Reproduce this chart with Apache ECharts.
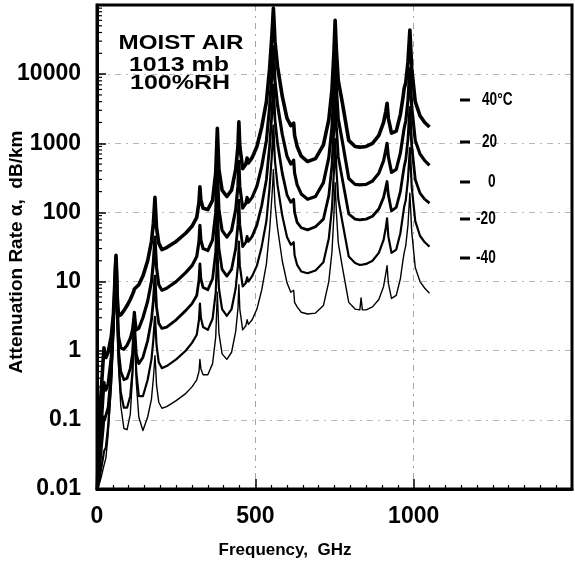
<!DOCTYPE html>
<html><head><meta charset="utf-8">
<script src="https://cdn.jsdelivr.net/npm/echarts@6/dist/echarts.min.js"></script>
<style>html,body{margin:0;padding:0;background:#fff}#c{width:575px;height:565px}</style>
</head><body><div id="c"></div>
<script>
// Frequency grid (GHz)
const freq = [1,5,10,15,20,22,24,28,35,45,52,56,58,60,62,64,68,75,85,95,105,112,116,118,120,124,132,145,160,172,178,181,183,185,188,195,205,220,250,280,300,315,322,325,328,335,350,365,375,380,385,395,410,425,438,445,448,451,460,470,474,478,490,505,520,535,545,552,555,557,559,562,570,585,600,612,618,621,624,632,645,665,690,715,732,742,748,752,756,762,775,795,815,830,834,838,850,870,890,905,912,916,920,930,945,958,966,970,975,982,988,994,1005,1020,1035,1050];

// Attenuation (dB/km) for each temperature
const t40 = [0.01,0.04,0.15,0.35,0.8,1.1,0.95,0.8,0.95,1.6,3.5,9,16,24,14,6,3.2,3.3,3.8,4.5,5.5,6.5,7.2,7.8,7.4,7.5,9,12,20,38,70,115,165,110,60,36,29,31,38,50,63,85,140,235,150,115,110,150,380,1650,420,210,170,210,420,900,2050,900,430,500,610,520,620,900,1700,4000,12000,35000,60000,90000,60000,30000,13000,4800,2300,1800,1850,1950,1300,900,650,545,600,950,2200,6000,20000,60000,22000,8000,3800,1100,900,880,890,885,900,1000,1300,2000,2900,3800,2300,1400,1500,2600,4500,6200,7500,15000,43500,12000,4000,2500,2000,1720];
const t20 = [0.01,0.02,0.05,0.11,0.25,0.35,0.3,0.27,0.33,0.8,2.8,8,15,22,13,4.5,1.6,1.1,1.05,1.2,1.5,2.0,2.8,3.6,2.8,2.0,2.1,3.0,5.2,10,19,31,44,29,16,9,7.5,8,10,13.5,17,23,38,65,40,30,28,40,100,440,110,55,44,55,110,240,550,240,115,135,165,140,165,240,460,1100,3300,9500,16000,25000,16000,8000,3600,1350,650,500,520,570,370,250,185,155,170,270,620,1700,5700,17000,6200,2250,1050,310,255,250,252,252,255,285,370,560,800,1000,640,380,420,720,1250,1650,2100,4200,12000,3300,1100,700,560,480];
const t0 = [0.01,0.015,0.025,0.045,0.08,0.11,0.1,0.1,0.15,0.5,2.3,7.5,14,21,12,3.8,1.0,0.5,0.38,0.4,0.55,0.9,1.8,3.0,1.8,0.9,0.65,0.8,1.4,2.8,5.3,8.5,12,8,4.3,2.5,2.1,2.2,2.8,3.8,4.8,6.3,10.5,18,11,8.2,7.6,11,27,120,30,15,12,15,30,66,150,66,32,37,45,38,45,66,125,300,900,2600,4400,7000,4400,2200,1000,370,180,140,145,155,100,72,60,56,62,80,175,480,1600,4800,1750,640,300,95,80,78,79,79,80,88,112,165,230,280,180,105,118,200,350,460,580,1150,3300,900,300,190,155,136];
const tm20 = [0.01,0.012,0.016,0.022,0.03,0.035,0.035,0.04,0.08,0.35,2.0,7,13,20,11,3.3,0.75,0.25,0.15,0.15,0.22,0.5,1.4,2.8,1.4,0.5,0.22,0.22,0.38,0.75,1.45,2.3,3.1,2.2,1.2,0.68,0.56,0.6,0.75,1.0,1.3,1.7,2.8,4.8,3.0,2.2,2.0,2.9,7,31,8,4,3.2,4,8,17,38,17,8.5,9.5,11.5,10,12,17,32,75,230,650,1100,1800,1100,550,250,90,44,34,35,37,24,17.4,14,13.2,14.5,19,42,115,380,1150,420,155,72,23,18.5,17.4,17.6,17.6,18,20,26,40,60,82,45,26,29,50,90,121,150,300,850,230,75,46,37,32];
const tm40 = [0.01,0.011,0.013,0.016,0.02,0.022,0.022,0.028,0.06,0.3,1.8,6.5,12.5,19,10,3.0,0.6,0.16,0.075,0.072,0.12,0.4,1.2,2.7,1.2,0.35,0.11,0.07,0.11,0.2,0.4,0.62,0.85,0.6,0.32,0.18,0.147,0.155,0.19,0.24,0.3,0.38,0.5,0.75,0.55,0.45,0.45,0.65,1.6,7,1.8,0.9,0.75,0.95,1.9,4,9,4,2.0,2.3,2.8,2.4,2.8,4,7.5,18,55,160,260,420,260,130,60,20,9.6,7,7,7.5,5,4.3,3.6,3.4,3.5,4.5,10,27,90,270,100,36,16,5,4,3.9,5.8,3.9,3.9,4.3,5.5,8.5,13,17,9.5,5.7,6.3,11,20,26,33,66,190,52,16,10,8,6.8];

const yTickLabels = ['0.01','0.1','1','10','100','1000','10000'];
const xTickLabels = [0,500,1000];
const tempLabels = ['40°C','20','0','-20','-40'];

const series = [t40,t20,t0,tm20,tm40];
const widths = [3.6,3.2,2.8,2.2,1.4];

function pairs(v){ return freq.map((f,i)=>[f,v[i]]); }

// decorative log minor ticks on the y axis
const minorY = [];
for (let e=-2;e<5;e++) for (let m=2;m<10;m++) minorY.push([0, m*Math.pow(10,e)]);

const chart = echarts.init(document.getElementById('c'), null, {renderer:'canvas'});
const FONT = 'Liberation Sans, Arial, sans-serif';
const legendY = [100,142,182,219,258];
const legendX = [482,482,488,476,476];
function txt(text, x, y, size, sx, extra){
  return Object.assign({type:'text', x:x, y:y, scaleX:sx, style:{text:text, fill:'#000', font:'bold '+size+'px '+FONT, textAlign:'center', textVerticalAlign:'middle'}}, extra||{});
}
const option = {
  animation:false,
  grid:{left:97, top:5, width:481.5, height:484, show:true, borderColor:'#000', borderWidth:3, backgroundColor:'transparent'},
  xAxis:{type:'value', min:0, max:1500, interval:500,
    axisLine:{lineStyle:{color:'#000',width:3}},
    axisTick:{inside:true,length:10,lineStyle:{color:'#000',width:1.5}},
    minorTick:{show:true,splitNumber:10,length:4,lineStyle:{color:'#000',width:1.2}},
    axisLabel:{formatter:v=>xTickLabels.includes(v)?String(v):'', fontSize:23, fontWeight:'bold', color:'#000', margin:16, fontFamily:FONT},
    splitLine:{show:true, lineStyle:{type:[6,5,2,5], color:'#000', opacity:0.35, width:1}}},
  yAxis:{type:'log', logBase:10, min:0.01, max:100000,
    axisLine:{lineStyle:{color:'#000',width:3}},
    axisTick:{inside:true,length:9,lineStyle:{color:'#000',width:1.5}},
    axisLabel:{formatter:v=>{const i=Math.round(Math.log10(v))+2; return yTickLabels[i]||'';}, fontSize:23, fontWeight:'bold', color:'#000', margin:16, fontFamily:FONT},
    splitLine:{show:true, lineStyle:{type:[6,5,2,5], color:'#000', opacity:0.28, width:1}}},
  series: series.map((v,i)=>({type:'line', data:pairs(v), showSymbol:false, symbol:'none', smooth:false,
      lineStyle:{color:'#000', width:widths[i], join:'round'}, z:3})).concat([{
      type:'custom', data:minorY, silent:true, z:4,
      renderItem:(params,api)=>{const p=api.coord([0,api.value(1)]); return {type:'line', shape:{x1:p[0],y1:p[1],x2:p[0]+5,y2:p[1]}, style:{stroke:'#000',lineWidth:1.2}};}
  }]),
  graphic:[
    txt('MOIST AIR', 181, 43, 21, 1.15),
    txt('1013 mb', 179, 65, 20, 1.25),
    txt('100%RH', 180, 83, 20, 1.25),
    txt('Attenuation Rate \u03b1,  dB/km', 17, 252, 19, 1, {rotation:Math.PI/2}),
    txt('Frequency,  GHz', 285, 550, 17, 1)
  ].concat(tempLabels.map((t,i)=>({type:'group', children:[
    {type:'line', shape:{x1:460,y1:legendY[i],x2:470,y2:legendY[i]}, style:{stroke:'#000',lineWidth:3}},
    {type:'text', x:legendX[i], y:legendY[i], scaleX:0.72, style:{text:t, fill:'#000', font:'bold 19px '+FONT, textAlign:'left', textVerticalAlign:'middle'}}
  ]})))
};
chart.setOption(option);
</script></body></html>
